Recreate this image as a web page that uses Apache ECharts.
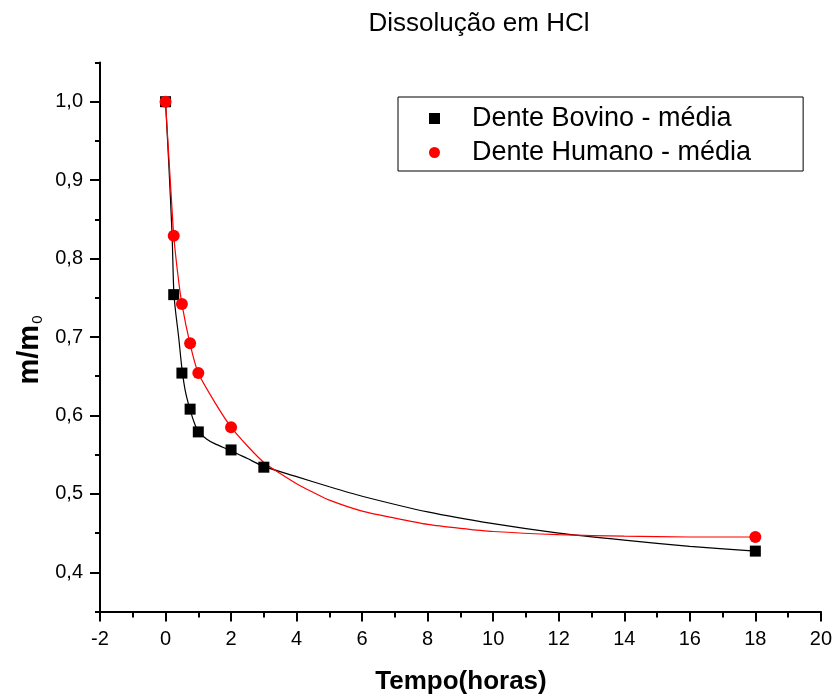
<!DOCTYPE html>
<html>
<head>
<meta charset="utf-8">
<script src="https://cdn.jsdelivr.net/npm/echarts@6/dist/echarts.min.js"></script>
<style>
  html, body { margin: 0; padding: 0; background: #fff; }
  #chart { width: 835px; height: 695px; }
</style>
</head>
<body>
<div id="chart"></div>
<script>
// Measured mean mass ratios (m/m0) over time in HCl
const bovinoTime = [0, 0.25, 0.5, 0.75, 1, 2, 3, 18];
const bovinoMean = [1.0, 0.754, 0.654, 0.608, 0.579, 0.556, 0.534, 0.427];

const humanoTime = [0, 0.25, 0.5, 0.75, 1, 2, 18];
const humanoMean = [1.0, 0.829, 0.742, 0.692, 0.654, 0.585, 0.445];

// Fitted decay curves drawn through each data set
const bovinoFitTime = [0, 0.1, 0.2, 0.25, 0.3, 0.4, 0.5, 0.6, 0.75, 0.9, 1, 1.25, 1.5, 2, 2.5, 3, 4, 5, 6, 8, 10, 12, 14, 16, 18];
const bovinoFitValue = [1.0, 0.92, 0.83, 0.76, 0.735, 0.70, 0.66, 0.632, 0.607, 0.588, 0.580, 0.570, 0.564, 0.555, 0.545, 0.535, 0.522, 0.509, 0.497, 0.477, 0.462, 0.45, 0.441, 0.433, 0.427];

const humanoFitTime = [0, 0.1, 0.2, 0.25, 0.375, 0.5, 0.75, 1, 1.5, 2, 2.5, 3, 3.5, 4, 4.5, 5, 6, 7, 8, 9, 10, 12, 14, 16, 18];
const humanoFitValue = [1.0, 0.93, 0.862, 0.829, 0.78, 0.742, 0.691, 0.654, 0.617, 0.585, 0.561, 0.540, 0.526, 0.513, 0.502, 0.492, 0.478, 0.469, 0.461, 0.456, 0.452, 0.448, 0.446, 0.445, 0.445];

// Axis ticks
const yMajorTicks = [0.4, 0.5, 0.6, 0.7, 0.8, 0.9, 1.0];
const yMinorTicks = [0.35, 0.45, 0.55, 0.65, 0.75, 0.85, 0.95, 1.05];

const pairs = (xs, ys) => xs.map((x, i) => [x, ys[i]]);
const FONT = 'Liberation Sans, Arial, Helvetica, sans-serif';

const chart = echarts.init(document.getElementById('chart'), null, { renderer: 'canvas' });

chart.setOption({
  backgroundColor: '#ffffff',
  animation: false,
  title: {
    text: 'Dissolução em HCl',
    left: 474,
    textAlign: 'center',
    top: 6,
    textStyle: { fontFamily: FONT, fontSize: 26, fontWeight: 'normal', color: '#000' }
  },
  grid: { left: 100, right: 13, top: 62.5, bottom: 83.5 },
  legend: {
    data: ['Dente Bovino - média', 'Dente Humano - média'],
    orient: 'vertical',
    left: 398,
    top: 97,
    padding: [8, 52, 5, 31],
    itemGap: 7,
    itemWidth: 11,
    itemHeight: 11,
    borderColor: '#000',
    borderWidth: 1,
    borderRadius: 0,
    textStyle: { fontFamily: FONT, fontSize: 27, color: '#000', padding: [0, 0, 0, 27] }
  },
  xAxis: {
    type: 'value',
    min: -2,
    max: 20,
    interval: 2,
    axisLine: { onZero: false, lineStyle: { color: '#000', width: 2 } },
    axisTick: { inside: false, length: 10, lineStyle: { color: '#000', width: 2 } },
    minorTick: { show: true, splitNumber: 2, length: 6, lineStyle: { color: '#000', width: 2 } },
    splitLine: { show: false },
    axisLabel: { margin: 18, fontFamily: FONT, fontSize: 20, color: '#000' }
  },
  yAxis: [
    {
      type: 'value',
      min: 0.35,
      max: 1.05,
      axisLine: { show: true, onZero: false, lineStyle: { color: '#000', width: 2 } },
      axisTick: { show: true, inside: false, length: 10, customValues: yMajorTicks, lineStyle: { color: '#000', width: 2 } },
      splitLine: { show: false },
      axisLabel: {
        customValues: yMajorTicks,
        margin: 17,
        fontFamily: FONT,
        fontSize: 20,
        color: '#000',
        formatter: v => v.toFixed(1).replace('.', ',')
      }
    },
    {
      type: 'value',
      position: 'left',
      min: 0.35,
      max: 1.05,
      axisLine: { show: false, onZero: false },
      axisTick: { show: true, inside: false, length: 5, customValues: yMinorTicks, lineStyle: { color: '#000', width: 2 } },
      splitLine: { show: false },
      axisLabel: { show: false }
    }
  ],
  graphic: [
    {
      type: 'text',
      x: 461,
      y: 682,
      style: {
        text: 'Tempo(horas)',
        font: 'bold 26px ' + FONT,
        fill: '#000',
        textAlign: 'center',
        textVerticalAlign: 'middle'
      }
    },
    {
      type: 'text',
      x: 30,
      y: 350,
      rotation: Math.PI / 2,
      style: {
        text: '{a|m/m}{b|0}',
        textAlign: 'center',
        textVerticalAlign: 'middle',
        rich: {
          a: { fontFamily: FONT, fontSize: 29, fontWeight: 'bold', color: '#000' },
          b: { fontFamily: FONT, fontSize: 15, color: '#000', padding: [16, 0, 0, 1] }
        }
      }
    }
  ],
  series: [
    {
      name: 'Bovino ajuste',
      type: 'line',
      data: pairs(bovinoFitTime, bovinoFitValue),
      showSymbol: false,
      smooth: 0.25,
      lineStyle: { color: '#000', width: 1.2 },
      z: 2
    },
    {
      name: 'Humano ajuste',
      type: 'line',
      data: pairs(humanoFitTime, humanoFitValue),
      showSymbol: false,
      smooth: 0.25,
      lineStyle: { color: '#ff0000', width: 1.2 },
      z: 2
    },
    {
      name: 'Dente Bovino - média',
      type: 'scatter',
      data: pairs(bovinoTime, bovinoMean),
      symbol: 'rect',
      symbolSize: 11,
      itemStyle: { color: '#000', opacity: 1 },
      z: 3
    },
    {
      name: 'Dente Humano - média',
      type: 'scatter',
      data: pairs(humanoTime, humanoMean),
      symbol: 'circle',
      symbolSize: 12,
      itemStyle: { color: '#ff0000', opacity: 1 },
      z: 4
    }
  ]
});
</script>
</body>
</html>
